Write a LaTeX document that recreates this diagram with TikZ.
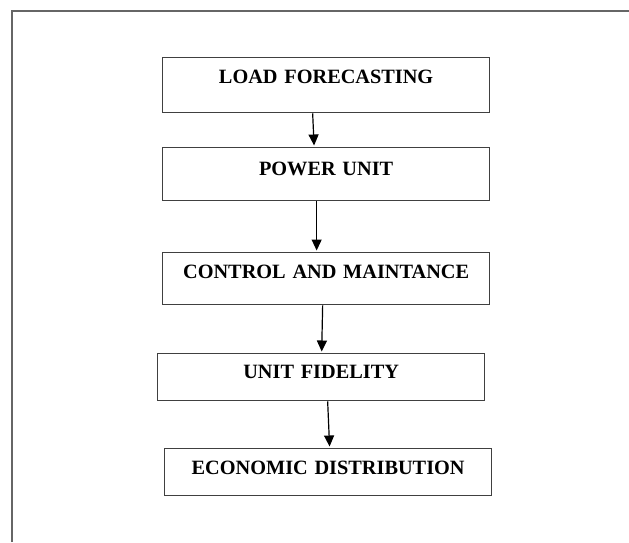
\documentclass[tikz,border=0pt]{standalone}
\usepackage{fontspec}
\setmainfont{Liberation Serif}
\usetikzlibrary{arrows.meta}
\begin{document}
\begin{tikzpicture}[x=1pt,y=1pt,
  stagebox/.style={draw=black!75, line width=1.3pt, rectangle, anchor=north west,
    inner xsep=0pt, inner ysep=0pt, align=center,
    font=\fontsize{20.3}{24}\selectfont\bfseries, text=black},
  arr/.style={draw=black, line width=1.2pt, -{Triangle[width=10pt,length=11pt]}, shorten >=1.5pt},
  frameline/.style={draw=black!60, line width=1.6pt}]
\useasboundingbox (0,0) rectangle (629,542);
% frame (top and left edges only)
\draw[frameline] (12,0) -- (12,531) -- (629,531);
% boxes: y_tikz = 542 - y_px
\node[stagebox, text width=327pt, text height=26pt, text depth=29pt] (b1) at (162,485) {LOAD FORECASTING};
\node[stagebox, text width=327pt, text height=28pt, text depth=25pt] (b2) at (162,395) {POWER UNIT};
\node[stagebox, text width=327pt, text height=26pt, text depth=26pt] (b3) at (162,290) {CONTROL AND MAINTANCE};
\node[stagebox, text width=327pt, text height=25pt, text depth=22pt] (b4) at (157,189) {UNIT FIDELITY};
\node[stagebox, text width=327pt, text height=26pt, text depth=21pt] (b5) at (164,94) {ECONOMIC DISTRIBUTION};
% arrows
\draw[arr] ([xshift=-13.5pt]b1.south) -- ([xshift=-12pt]b2.north);
\draw[arr] ([xshift=-9.5pt]b2.south) -- ([xshift=-9.5pt]b3.north);
\draw[arr] ([xshift=-3.5pt]b3.south) -- ([xshift=0.5pt]b4.north);
\draw[arr] ([xshift=6.5pt]b4.south) -- ([xshift=1.5pt]b5.north);
\end{tikzpicture}
\end{document}
